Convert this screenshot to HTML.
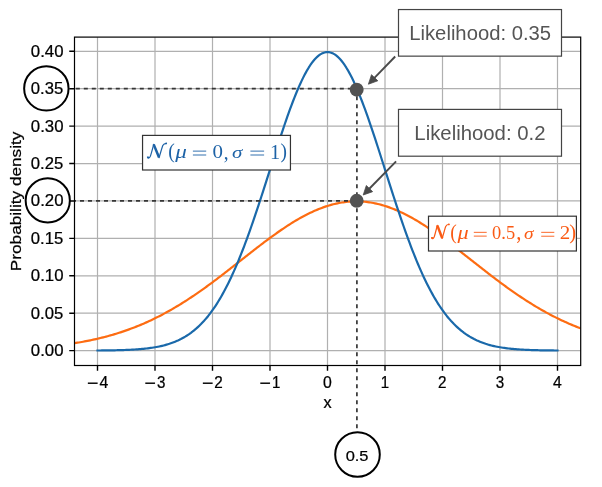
<!DOCTYPE html>
<html><head><meta charset="utf-8"><style>html,body{margin:0;padding:0;background:#fff;}svg{display:block;will-change:transform;}</style></head>
<body><svg width="602" height="487" viewBox="0 0 602 487">
<defs><clipPath id="ax"><rect x="74.5" y="37.2" width="506" height="328.3"/></clipPath></defs>
<rect width="602" height="487" fill="#fff"/>
<path d="M97.50 37.2V365.5 M155.00 37.2V365.5 M212.50 37.2V365.5 M270.00 37.2V365.5 M327.50 37.2V365.5 M385.00 37.2V365.5 M442.50 37.2V365.5 M500.00 37.2V365.5 M557.50 37.2V365.5 M74.5 350.60H580.5 M74.5 313.19H580.5 M74.5 275.78H580.5 M74.5 238.36H580.5 M74.5 200.95H580.5 M74.5 163.54H580.5 M74.5 126.12H580.5 M74.5 88.71H580.5 M74.5 51.30H580.5" stroke="#b0b0b0" stroke-width="1.2" fill="none"/>
<g clip-path="url(#ax)" fill="none" stroke-width="2.2" stroke-linejoin="round" stroke-linecap="square">
<path d="M68.75 344.04 L70.19 343.83 L71.62 343.62 L73.06 343.40 L74.50 343.18 L75.94 342.95 L77.38 342.71 L78.81 342.47 L80.25 342.22 L81.69 341.97 L83.12 341.71 L84.56 341.44 L86.00 341.17 L87.44 340.88 L88.87 340.60 L90.31 340.30 L91.75 340.00 L93.19 339.69 L94.62 339.38 L96.06 339.06 L97.50 338.73 L98.94 338.39 L100.38 338.04 L101.81 337.69 L103.25 337.33 L104.69 336.96 L106.12 336.58 L107.56 336.20 L109.00 335.80 L110.44 335.40 L111.88 334.99 L113.31 334.57 L114.75 334.14 L116.19 333.71 L117.62 333.26 L119.06 332.81 L120.50 332.35 L121.94 331.87 L123.38 331.39 L124.81 330.90 L126.25 330.40 L127.69 329.89 L129.12 329.37 L130.56 328.84 L132.00 328.30 L133.44 327.76 L134.88 327.20 L136.31 326.63 L137.75 326.05 L139.19 325.46 L140.62 324.87 L142.06 324.26 L143.50 323.64 L144.94 323.01 L146.38 322.37 L147.81 321.72 L149.25 321.06 L150.69 320.39 L152.12 319.71 L153.56 319.02 L155.00 318.32 L156.44 317.61 L157.88 316.89 L159.31 316.16 L160.75 315.41 L162.19 314.66 L163.63 313.90 L165.06 313.12 L166.50 312.34 L167.94 311.55 L169.38 310.74 L170.81 309.93 L172.25 309.10 L173.69 308.27 L175.12 307.42 L176.56 306.57 L178.00 305.70 L179.44 304.83 L180.88 303.94 L182.31 303.05 L183.75 302.14 L185.19 301.23 L186.63 300.31 L188.06 299.38 L189.50 298.44 L190.94 297.49 L192.38 296.53 L193.81 295.56 L195.25 294.58 L196.69 293.60 L198.12 292.61 L199.56 291.61 L201.00 290.60 L202.44 289.58 L203.88 288.56 L205.31 287.53 L206.75 286.49 L208.19 285.44 L209.62 284.39 L211.06 283.33 L212.50 282.27 L213.94 281.20 L215.38 280.12 L216.81 279.04 L218.25 277.95 L219.69 276.86 L221.12 275.76 L222.56 274.66 L224.00 273.55 L225.44 272.44 L226.88 271.33 L228.31 270.22 L229.75 269.10 L231.19 267.97 L232.62 266.85 L234.06 265.72 L235.50 264.60 L236.94 263.47 L238.38 262.34 L239.81 261.20 L241.25 260.07 L242.69 258.94 L244.12 257.81 L245.56 256.68 L247.00 255.55 L248.44 254.42 L249.88 253.30 L251.31 252.17 L252.75 251.05 L254.19 249.93 L255.62 248.82 L257.06 247.71 L258.50 246.60 L259.94 245.50 L261.38 244.40 L262.81 243.31 L264.25 242.22 L265.69 241.14 L267.12 240.06 L268.56 239.00 L270.00 237.94 L271.44 236.88 L272.88 235.84 L274.31 234.80 L275.75 233.78 L277.19 232.76 L278.62 231.75 L280.06 230.76 L281.50 229.77 L282.94 228.79 L284.38 227.83 L285.81 226.87 L287.25 225.93 L288.69 225.00 L290.12 224.09 L291.56 223.19 L293.00 222.30 L294.44 221.42 L295.88 220.56 L297.31 219.71 L298.75 218.88 L300.19 218.07 L301.62 217.27 L303.06 216.48 L304.50 215.72 L305.94 214.97 L307.38 214.23 L308.81 213.52 L310.25 212.82 L311.69 212.14 L313.12 211.48 L314.56 210.84 L316.00 210.21 L317.44 209.61 L318.88 209.02 L320.31 208.46 L321.75 207.91 L323.19 207.39 L324.62 206.88 L326.06 206.40 L327.50 205.94 L328.94 205.50 L330.38 205.08 L331.81 204.68 L333.25 204.30 L334.69 203.95 L336.12 203.61 L337.56 203.30 L339.00 203.02 L340.44 202.75 L341.88 202.51 L343.31 202.29 L344.75 202.09 L346.19 201.92 L347.63 201.76 L349.06 201.64 L350.50 201.53 L351.94 201.45 L353.38 201.39 L354.81 201.36 L356.25 201.35 L357.69 201.36 L359.13 201.39 L360.56 201.45 L362.00 201.53 L363.44 201.64 L364.88 201.76 L366.31 201.92 L367.75 202.09 L369.19 202.29 L370.62 202.51 L372.06 202.75 L373.50 203.02 L374.94 203.30 L376.38 203.61 L377.81 203.95 L379.25 204.30 L380.69 204.68 L382.12 205.08 L383.56 205.50 L385.00 205.94 L386.44 206.40 L387.88 206.88 L389.31 207.39 L390.75 207.91 L392.19 208.46 L393.62 209.02 L395.06 209.61 L396.50 210.21 L397.94 210.84 L399.38 211.48 L400.81 212.14 L402.25 212.82 L403.69 213.52 L405.12 214.23 L406.56 214.97 L408.00 215.72 L409.44 216.48 L410.88 217.27 L412.31 218.07 L413.75 218.88 L415.19 219.71 L416.63 220.56 L418.06 221.42 L419.50 222.30 L420.94 223.19 L422.38 224.09 L423.81 225.00 L425.25 225.93 L426.69 226.87 L428.12 227.83 L429.56 228.79 L431.00 229.77 L432.44 230.76 L433.88 231.75 L435.31 232.76 L436.75 233.78 L438.19 234.80 L439.62 235.84 L441.06 236.88 L442.50 237.94 L443.94 239.00 L445.38 240.06 L446.81 241.14 L448.25 242.22 L449.69 243.31 L451.12 244.40 L452.56 245.50 L454.00 246.60 L455.44 247.71 L456.88 248.82 L458.31 249.93 L459.75 251.05 L461.19 252.17 L462.62 253.30 L464.06 254.42 L465.50 255.55 L466.94 256.68 L468.38 257.81 L469.81 258.94 L471.25 260.07 L472.69 261.20 L474.12 262.34 L475.56 263.47 L477.00 264.60 L478.44 265.72 L479.88 266.85 L481.31 267.97 L482.75 269.10 L484.19 270.22 L485.62 271.33 L487.06 272.44 L488.50 273.55 L489.94 274.66 L491.38 275.76 L492.81 276.86 L494.25 277.95 L495.69 279.04 L497.12 280.12 L498.56 281.20 L500.00 282.27 L501.44 283.33 L502.88 284.39 L504.31 285.44 L505.75 286.49 L507.19 287.53 L508.62 288.56 L510.06 289.58 L511.50 290.60 L512.94 291.61 L514.38 292.61 L515.81 293.60 L517.25 294.58 L518.69 295.56 L520.12 296.53 L521.56 297.49 L523.00 298.44 L524.44 299.38 L525.88 300.31 L527.31 301.23 L528.75 302.14 L530.19 303.05 L531.62 303.94 L533.06 304.83 L534.50 305.70 L535.94 306.57 L537.38 307.42 L538.81 308.27 L540.25 309.10 L541.69 309.93 L543.12 310.74 L544.56 311.55 L546.00 312.34 L547.44 313.12 L548.88 313.90 L550.31 314.66 L551.75 315.41 L553.19 316.16 L554.62 316.89 L556.06 317.61 L557.50 318.32 L558.94 319.02 L560.38 319.71 L561.81 320.39 L563.25 321.06 L564.69 321.72 L566.12 322.37 L567.56 323.01 L569.00 323.64 L570.44 324.26 L571.88 324.87 L573.31 325.46 L574.75 326.05 L576.19 326.63 L577.62 327.20 L579.06 327.76 L580.50 328.30 L581.94 328.84 L583.38 329.37 L584.81 329.89 L586.25 330.40" stroke="#fd6c12"/>
<path d="M97.50 350.50 L98.94 350.49 L100.38 350.48 L101.81 350.47 L103.25 350.45 L104.69 350.44 L106.12 350.42 L107.56 350.40 L109.00 350.38 L110.44 350.36 L111.88 350.34 L113.31 350.31 L114.75 350.28 L116.19 350.25 L117.62 350.22 L119.06 350.18 L120.50 350.14 L121.94 350.10 L123.38 350.05 L124.81 350.00 L126.25 349.95 L127.69 349.89 L129.12 349.82 L130.56 349.75 L132.00 349.68 L133.44 349.60 L134.88 349.51 L136.31 349.41 L137.75 349.31 L139.19 349.20 L140.62 349.08 L142.06 348.95 L143.50 348.82 L144.94 348.67 L146.38 348.51 L147.81 348.34 L149.25 348.16 L150.69 347.96 L152.12 347.75 L153.56 347.52 L155.00 347.28 L156.44 347.03 L157.88 346.75 L159.31 346.46 L160.75 346.15 L162.19 345.81 L163.63 345.46 L165.06 345.08 L166.50 344.68 L167.94 344.25 L169.38 343.80 L170.81 343.31 L172.25 342.80 L173.69 342.26 L175.12 341.69 L176.56 341.08 L178.00 340.44 L179.44 339.76 L180.88 339.04 L182.31 338.28 L183.75 337.48 L185.19 336.64 L186.62 335.76 L188.06 334.82 L189.50 333.84 L190.94 332.81 L192.38 331.73 L193.81 330.59 L195.25 329.40 L196.69 328.16 L198.12 326.85 L199.56 325.48 L201.00 324.06 L202.44 322.56 L203.88 321.01 L205.31 319.38 L206.75 317.69 L208.19 315.93 L209.62 314.09 L211.06 312.18 L212.50 310.20 L213.94 308.14 L215.38 306.01 L216.81 303.80 L218.25 301.50 L219.69 299.13 L221.12 296.68 L222.56 294.14 L224.00 291.53 L225.44 288.83 L226.88 286.04 L228.31 283.18 L229.75 280.23 L231.19 277.20 L232.62 274.08 L234.06 270.88 L235.50 267.60 L236.94 264.24 L238.38 260.80 L239.81 257.28 L241.25 253.69 L242.69 250.02 L244.12 246.27 L245.56 242.45 L247.00 238.57 L248.44 234.61 L249.88 230.59 L251.31 226.51 L252.75 222.37 L254.19 218.18 L255.62 213.93 L257.06 209.64 L258.50 205.30 L259.94 200.92 L261.38 196.51 L262.81 192.06 L264.25 187.59 L265.69 183.10 L267.12 178.59 L268.56 174.07 L270.00 169.55 L271.44 165.02 L272.88 160.50 L274.31 155.99 L275.75 151.50 L277.19 147.03 L278.62 142.60 L280.06 138.20 L281.50 133.84 L282.94 129.53 L284.38 125.27 L285.81 121.08 L287.25 116.96 L288.69 112.91 L290.12 108.94 L291.56 105.05 L293.00 101.26 L294.44 97.58 L295.88 93.99 L297.31 90.52 L298.75 87.17 L300.19 83.94 L301.62 80.84 L303.06 77.87 L304.50 75.04 L305.94 72.36 L307.38 69.83 L308.81 67.45 L310.25 65.23 L311.69 63.17 L313.12 61.28 L314.56 59.55 L316.00 58.00 L317.44 56.63 L318.88 55.43 L320.31 54.41 L321.75 53.58 L323.19 52.93 L324.62 52.46 L326.06 52.18 L327.50 52.09 L328.94 52.18 L330.38 52.46 L331.81 52.93 L333.25 53.58 L334.69 54.41 L336.12 55.43 L337.56 56.63 L339.00 58.00 L340.44 59.55 L341.88 61.28 L343.31 63.17 L344.75 65.23 L346.19 67.45 L347.63 69.83 L349.06 72.36 L350.50 75.04 L351.94 77.87 L353.38 80.84 L354.81 83.94 L356.25 87.17 L357.69 90.52 L359.12 93.99 L360.56 97.58 L362.00 101.26 L363.44 105.05 L364.88 108.94 L366.31 112.91 L367.75 116.96 L369.19 121.08 L370.62 125.27 L372.06 129.53 L373.50 133.84 L374.94 138.20 L376.38 142.60 L377.81 147.03 L379.25 151.50 L380.69 155.99 L382.12 160.50 L383.56 165.02 L385.00 169.55 L386.44 174.07 L387.88 178.59 L389.31 183.10 L390.75 187.59 L392.19 192.06 L393.62 196.51 L395.06 200.92 L396.50 205.30 L397.94 209.64 L399.38 213.93 L400.81 218.18 L402.25 222.37 L403.69 226.51 L405.12 230.59 L406.56 234.61 L408.00 238.57 L409.44 242.45 L410.88 246.27 L412.31 250.02 L413.75 253.69 L415.19 257.28 L416.63 260.80 L418.06 264.24 L419.50 267.60 L420.94 270.88 L422.38 274.08 L423.81 277.20 L425.25 280.23 L426.69 283.18 L428.12 286.04 L429.56 288.83 L431.00 291.53 L432.44 294.14 L433.88 296.68 L435.31 299.13 L436.75 301.50 L438.19 303.80 L439.62 306.01 L441.06 308.14 L442.50 310.20 L443.94 312.18 L445.38 314.09 L446.81 315.93 L448.25 317.69 L449.69 319.38 L451.12 321.01 L452.56 322.56 L454.00 324.06 L455.44 325.48 L456.88 326.85 L458.31 328.16 L459.75 329.40 L461.19 330.59 L462.62 331.73 L464.06 332.81 L465.50 333.84 L466.94 334.82 L468.38 335.76 L469.81 336.64 L471.25 337.48 L472.69 338.28 L474.12 339.04 L475.56 339.76 L477.00 340.44 L478.44 341.08 L479.88 341.69 L481.31 342.26 L482.75 342.80 L484.19 343.31 L485.62 343.80 L487.06 344.25 L488.50 344.68 L489.94 345.08 L491.38 345.46 L492.81 345.81 L494.25 346.15 L495.69 346.46 L497.12 346.75 L498.56 347.03 L500.00 347.28 L501.44 347.52 L502.88 347.75 L504.31 347.96 L505.75 348.16 L507.19 348.34 L508.62 348.51 L510.06 348.67 L511.50 348.82 L512.94 348.95 L514.38 349.08 L515.81 349.20 L517.25 349.31 L518.69 349.41 L520.12 349.51 L521.56 349.60 L523.00 349.68 L524.44 349.75 L525.88 349.82 L527.31 349.89 L528.75 349.95 L530.19 350.00 L531.62 350.05 L533.06 350.10 L534.50 350.14 L535.94 350.18 L537.38 350.22 L538.81 350.25 L540.25 350.28 L541.69 350.31 L543.12 350.34 L544.56 350.36 L546.00 350.38 L547.44 350.40 L548.88 350.42 L550.31 350.44 L551.75 350.45 L553.19 350.47 L554.62 350.48 L556.06 350.49 L557.50 350.50" stroke="#1a69aa"/>
</g>
<g stroke="#363636" stroke-width="1.7" stroke-dasharray="4 4" fill="none">
<path d="M75.8 88.7H359.8"/><path d="M74.5 200.9H356" stroke-dashoffset="2.5"/><path d="M356.9 88.2V428.2"/>
</g>
<circle cx="356.7" cy="89.7" r="6.95" fill="#525252"/>
<circle cx="356.7" cy="200.8" r="6.95" fill="#525252"/>
<rect x="74.5" y="37.1" width="506.2" height="328.4" fill="none" stroke="#000" stroke-width="1.2"/>
<path d="M97.50 365.5v5.25 M155.00 365.5v5.25 M212.50 365.5v5.25 M270.00 365.5v5.25 M327.50 365.5v5.25 M385.00 365.5v5.25 M442.50 365.5v5.25 M500.00 365.5v5.25 M557.50 365.5v5.25 M74.5 350.60h-5.25 M74.5 313.19h-5.25 M74.5 275.78h-5.25 M74.5 238.36h-5.25 M74.5 200.95h-5.25 M74.5 163.54h-5.25 M74.5 126.12h-5.25 M74.5 88.71h-5.25 M74.5 51.30h-5.25" stroke="#000" stroke-width="1.4" fill="none"/>
<g fill="none" stroke="#000" stroke-width="2">
<circle cx="46.35" cy="88.4" r="22.2"/><circle cx="47.75" cy="200.4" r="22.1"/><circle cx="357.5" cy="454.5" r="22.3"/>
</g>
<text transform="matrix(0.16814 0 0 0.15830 30.827 356.042)" font-family="Liberation Sans, sans-serif" font-size="100" fill="#000" stroke="#000" stroke-width="1.5">0.00</text>
<text transform="matrix(0.16676 0 0 0.15830 30.833 318.629)" font-family="Liberation Sans, sans-serif" font-size="100" fill="#000" stroke="#000" stroke-width="1.5">0.05</text>
<text transform="matrix(0.16814 0 0 0.15830 30.827 281.217)" font-family="Liberation Sans, sans-serif" font-size="100" fill="#000" stroke="#000" stroke-width="1.5">0.10</text>
<text transform="matrix(0.16676 0 0 0.15830 30.833 243.804)" font-family="Liberation Sans, sans-serif" font-size="100" fill="#000" stroke="#000" stroke-width="1.5">0.15</text>
<text transform="matrix(0.16814 0 0 0.15830 30.827 206.392)" font-family="Liberation Sans, sans-serif" font-size="100" fill="#000" stroke="#000" stroke-width="1.5">0.20</text>
<text transform="matrix(0.16676 0 0 0.15830 30.833 168.979)" font-family="Liberation Sans, sans-serif" font-size="100" fill="#000" stroke="#000" stroke-width="1.5">0.25</text>
<text transform="matrix(0.16814 0 0 0.15830 30.827 131.567)" font-family="Liberation Sans, sans-serif" font-size="100" fill="#000" stroke="#000" stroke-width="1.5">0.30</text>
<text transform="matrix(0.16676 0 0 0.15830 30.833 94.154)" font-family="Liberation Sans, sans-serif" font-size="100" fill="#000" stroke="#000" stroke-width="1.5">0.35</text>
<text transform="matrix(0.16814 0 0 0.15830 30.827 56.742)" font-family="Liberation Sans, sans-serif" font-size="100" fill="#000" stroke="#000" stroke-width="1.5">0.40</text>
<text transform="matrix(0.19361 0 0 0.17857 87.072 388.833)" font-family="Liberation Sans, sans-serif" font-size="100" fill="#000" stroke="#000" stroke-width="1.5">−</text>
<text transform="matrix(0.15772 0 0 0.15905 99.400 387.600)" font-family="Liberation Sans, sans-serif" font-size="100" fill="#000" stroke="#000" stroke-width="1.5">4</text>
<text transform="matrix(0.19361 0 0 0.17857 144.572 388.833)" font-family="Liberation Sans, sans-serif" font-size="100" fill="#000" stroke="#000" stroke-width="1.5">−</text>
<text transform="matrix(0.15158 0 0 0.15739 157.092 387.643)" font-family="Liberation Sans, sans-serif" font-size="100" fill="#000" stroke="#000" stroke-width="1.5">3</text>
<text transform="matrix(0.19361 0 0 0.17857 202.072 388.833)" font-family="Liberation Sans, sans-serif" font-size="100" fill="#000" stroke="#000" stroke-width="1.5">−</text>
<text transform="matrix(0.15264 0 0 0.15677 214.352 387.600)" font-family="Liberation Sans, sans-serif" font-size="100" fill="#000" stroke="#000" stroke-width="1.5">2</text>
<text transform="matrix(0.19361 0 0 0.17857 259.572 388.833)" font-family="Liberation Sans, sans-serif" font-size="100" fill="#000" stroke="#000" stroke-width="1.5">−</text>
<text transform="matrix(0.15052 0 0 0.15905 272.041 387.600)" font-family="Liberation Sans, sans-serif" font-size="100" fill="#000" stroke="#000" stroke-width="1.5">1</text>
<text transform="matrix(0.15832 0 0 0.15739 323.087 387.643)" font-family="Liberation Sans, sans-serif" font-size="100" fill="#000" stroke="#000" stroke-width="1.5">0</text>
<text transform="matrix(0.15052 0 0 0.15905 380.751 387.600)" font-family="Liberation Sans, sans-serif" font-size="100" fill="#000" stroke="#000" stroke-width="1.5">1</text>
<text transform="matrix(0.15264 0 0 0.15677 438.062 387.600)" font-family="Liberation Sans, sans-serif" font-size="100" fill="#000" stroke="#000" stroke-width="1.5">2</text>
<text transform="matrix(0.15158 0 0 0.15739 495.802 387.643)" font-family="Liberation Sans, sans-serif" font-size="100" fill="#000" stroke="#000" stroke-width="1.5">3</text>
<text transform="matrix(0.15772 0 0 0.15905 553.110 387.600)" font-family="Liberation Sans, sans-serif" font-size="100" fill="#000" stroke="#000" stroke-width="1.5">4</text>
<text transform="matrix(0.16211 0 0 0.15924 323.497 408.400)" font-family="Liberation Sans, sans-serif" font-size="100" fill="#000" stroke="#000" stroke-width="1.5">x</text>
<text transform="matrix(0 -0.17223 0.15442 0 20.996 271.221)" font-family="Liberation Sans, sans-serif" font-size="100" fill="#000" stroke="#000" stroke-width="1.5">Probability density</text>
<text transform="matrix(0.16444 0 0 0.15406 345.642 460.746)" font-family="Liberation Sans, sans-serif" font-size="100" fill="#000" stroke="#000" stroke-width="1.5">0.5</text>
<rect x="142.55" y="135.4" width="147.9" height="34.6" fill="#fff" stroke="#333" stroke-width="1.2"/>
<rect x="428.5" y="216.2" width="147.9" height="34.8" fill="#fff" stroke="#333" stroke-width="1.2"/>
<g fill="none" stroke="#1d62a6" stroke-linecap="round"><path d="M147.50 157.11 C148.31 158.54 149.51 158.22 150.32 156.31 C151.32 153.61 152.53 148.84 153.69 144.39" stroke-width="1.2"/><path d="M153.69 144.39 L159.06 157.59" stroke-width="2.5" stroke-linecap="butt"/><path d="M159.06 157.75 C160.17 153.93 161.77 148.37 162.78 145.50 C163.58 143.75 164.99 143.28 166.50 143.28" stroke-width="1.2"/></g><circle cx="148.31" cy="157.43" r="1.05" fill="#1d62a6"/><circle cx="166.10" cy="143.44" r="0.9" fill="#1d62a6"/>
<text transform="matrix(0.19608 0 0 0.21823 168.218 158.113)" font-family="Liberation Serif, serif" font-size="100" fill="#1d62a6">(</text>
<text transform="matrix(0.23102 0 0 0.19704 175.200 157.864)" font-family="Liberation Serif, serif" font-size="100" font-style="italic" fill="#1d62a6">μ</text>
<rect x="192.90" y="150.65" width="13.30" height="0.9" fill="#1d62a6"/>
<rect x="192.90" y="154.55" width="13.30" height="0.9" fill="#1d62a6"/>
<rect x="250.40" y="150.65" width="13.70" height="0.9" fill="#1d62a6"/>
<rect x="250.40" y="154.55" width="13.70" height="0.9" fill="#1d62a6"/>
<text transform="matrix(0.20941 0 0 0.19704 212.515 158.403)" font-family="Liberation Serif, serif" font-size="100" fill="#1d62a6">0</text>
<text transform="matrix(0.19333 0 0 0.20784 223.675 158.530)" font-family="Liberation Serif, serif" font-size="100" fill="#1d62a6">,</text>
<text transform="matrix(0.21010 0 0 0.16381 231.970 158.436)" font-family="Liberation Serif, serif" font-size="100" font-style="italic" fill="#1d62a6">σ</text>
<text transform="matrix(0.20426 0 0 0.20455 270.013 158.600)" font-family="Liberation Serif, serif" font-size="100" fill="#1d62a6">1</text>
<text transform="matrix(0.19417 0 0 0.21326 280.469 158.068)" font-family="Liberation Serif, serif" font-size="100" fill="#1d62a6">)</text>
<g fill="none" stroke="#fa5a14" stroke-linecap="round"><path d="M431.56 237.75 C432.30 239.15 433.42 238.84 434.16 236.98 C435.09 234.34 436.21 229.69 437.29 225.35" stroke-width="1.2"/><path d="M437.29 225.35 L442.25 238.22" stroke-width="2.5" stroke-linecap="butt"/><path d="M442.25 238.37 C443.28 234.65 444.76 229.23 445.69 226.44 C446.44 224.73 447.74 224.27 449.14 224.27" stroke-width="1.2"/></g><circle cx="432.30" cy="238.06" r="1.05" fill="#fa5a14"/><circle cx="448.76" cy="224.42" r="0.9" fill="#fa5a14"/>
<text transform="matrix(0.19608 0 0 0.21547 450.218 239.121)" font-family="Liberation Serif, serif" font-size="100" fill="#fa5a14">(</text>
<text transform="matrix(0.22246 0 0 0.19556 457.600 239.096)" font-family="Liberation Serif, serif" font-size="100" font-style="italic" fill="#fa5a14">μ</text>
<rect x="473.80" y="231.85" width="12.90" height="0.9" fill="#fa5a14"/>
<rect x="473.80" y="235.65" width="12.90" height="0.9" fill="#fa5a14"/>
<rect x="541.20" y="231.85" width="13.10" height="0.9" fill="#fa5a14"/>
<rect x="541.20" y="235.75" width="13.10" height="0.9" fill="#fa5a14"/>
<text transform="matrix(0.18422 0 0 0.18971 492.109 238.615)" font-family="Liberation Serif, serif" font-size="100" fill="#fa5a14">0.5</text>
<text transform="matrix(0.20667 0 0 0.22353 516.325 238.991)" font-family="Liberation Serif, serif" font-size="100" fill="#fa5a14">,</text>
<text transform="matrix(0.19394 0 0 0.16762 523.918 238.732)" font-family="Liberation Serif, serif" font-size="100" font-style="italic" fill="#fa5a14">σ</text>
<text transform="matrix(0.21000 0 0 0.19170 559.655 238.900)" font-family="Liberation Serif, serif" font-size="100" fill="#fa5a14">2</text>
<text transform="matrix(0.20583 0 0 0.21547 569.331 239.121)" font-family="Liberation Serif, serif" font-size="100" fill="#fa5a14">)</text>
<rect x="398.5" y="9.55" width="163" height="46.6" fill="#fff" stroke="#444" stroke-width="1.2"/>
<rect x="398.5" y="109.4" width="163" height="46.8" fill="#fff" stroke="#444" stroke-width="1.2"/>
<text transform="matrix(0.20262 0 0 0.20136 409.228 39.999)" font-family="Liberation Sans, sans-serif" font-size="100" fill="#555">Likelihood: 0.35</text>
<text transform="matrix(0.20356 0 0 0.20136 414.321 139.899)" font-family="Liberation Sans, sans-serif" font-size="100" fill="#555">Likelihood: 0.2</text>
<path d="M395.20 56.50L373.96 78.45" stroke="#4a4a4a" stroke-width="1.9" fill="none"/><path d="M368.40 84.20L371.50 74.67L377.82 80.79Z" fill="#4a4a4a" stroke="#4a4a4a" stroke-width="0.8"/>
<path d="M396.10 161.30L368.79 189.28" stroke="#4a4a4a" stroke-width="1.9" fill="none"/><path d="M363.20 195.00L366.34 185.49L372.64 191.63Z" fill="#4a4a4a" stroke="#4a4a4a" stroke-width="0.8"/>
</svg></body></html>
